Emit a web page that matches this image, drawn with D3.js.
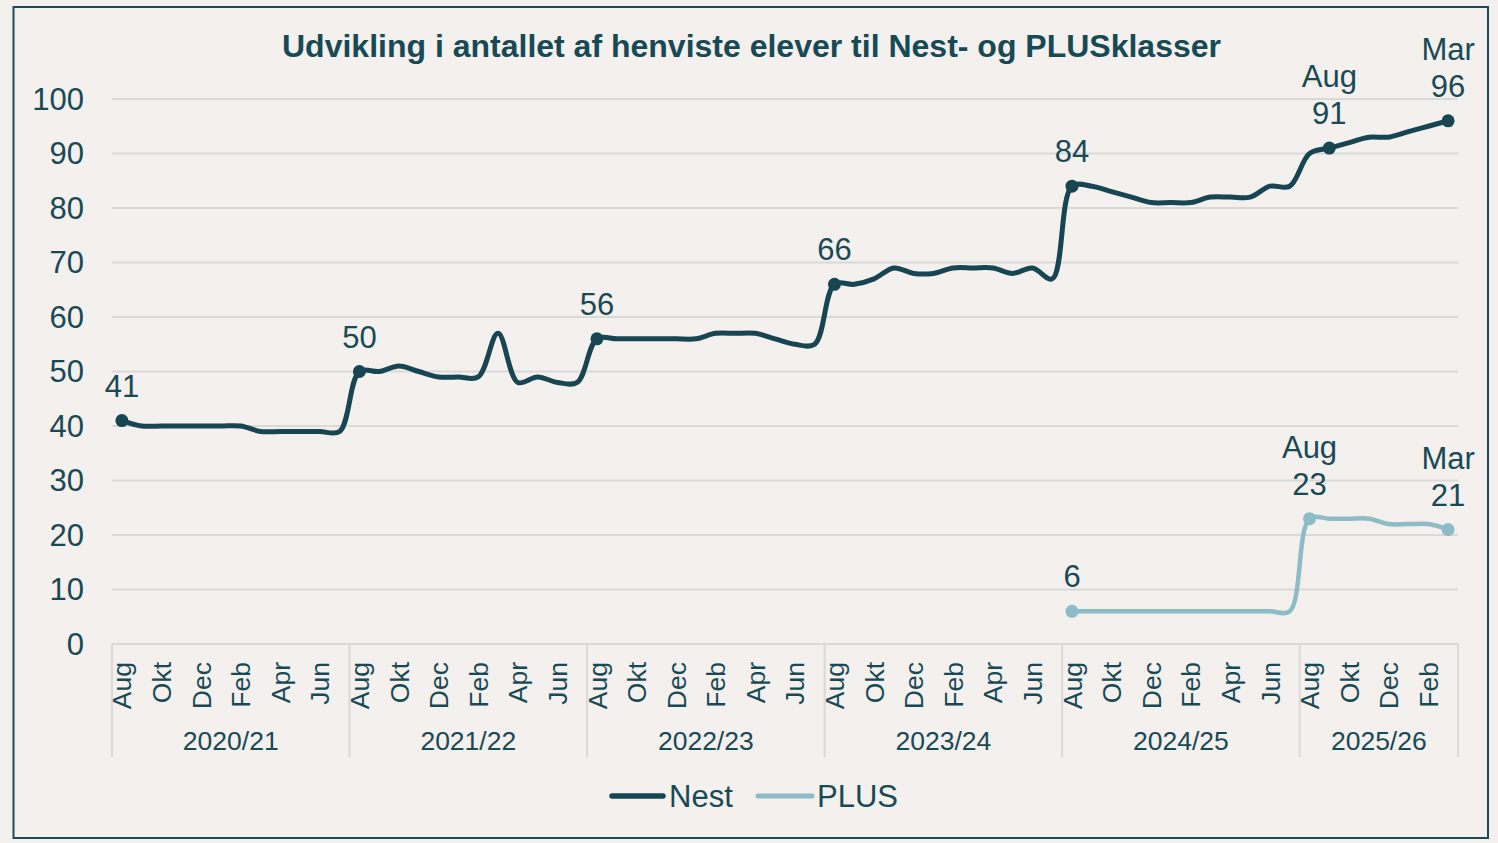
<!DOCTYPE html>
<html>
<head>
<meta charset="utf-8">
<script src="https://cdn.jsdelivr.net/npm/d3@7"></script>
<style>
  html, body { margin: 0; padding: 0; background: #f3f0ed; }
  svg { display: block; }
  text { font-family: "Liberation Sans", Arial, sans-serif; fill: #184a56; }
</style>
</head>
<body>
<svg id="chart" width="1498" height="843"></svg>
<script>
// ---------- DATA ----------
const title = "Udvikling i antallet af henviste elever til Nest- og PLUSklasser";
const schoolYears = ["2020/21", "2021/22", "2022/23", "2023/24", "2024/25", "2025/26"];
const monthsPerYear = [12, 12, 12, 12, 12, 8];
const monthNames = ["Aug", "Sep", "Okt", "Nov", "Dec", "Jan", "Feb", "Mar", "Apr", "Maj", "Jun", "Jul"];
const shownMonths = ["Aug", "Okt", "Dec", "Feb", "Apr", "Jun"];
const yTicks = [0, 10, 20, 30, 40, 50, 60, 70, 80, 90, 100];

const nestValues = [
  41, 40, 40, 40, 40, 40, 40, 39, 39, 39, 39, 39,   // 2020/21
  50, 50, 51, 50, 49, 49, 49, 57, 48, 49, 48, 48,   // 2021/22
  56, 56, 56, 56, 56, 56, 57, 57, 57, 56, 55, 55,   // 2022/23
  66, 66, 67, 69, 68, 68, 69, 69, 69, 68, 69, 67,   // 2023/24
  84, 84, 83, 82, 81, 81, 81, 82, 82, 82, 84, 84,   // 2024/25
  90, 91, 92, 93, 93, 94, 95, 96                    // 2025/26
];
const plusValues = [
  null, null, null, null, null, null, null, null, null, null, null, null,
  null, null, null, null, null, null, null, null, null, null, null, null,
  null, null, null, null, null, null, null, null, null, null, null, null,
  null, null, null, null, null, null, null, null, null, null, null, null,
  6, 6, 6, 6, 6, 6, 6, 6, 6, 6, 6, 6,
  23, 23, 23, 23, 22, 22, 22, 21
];
// labelled points: [index, label lines]
const nestLabels = [[0, ["41"]], [12, ["50"]], [24, ["56"]], [36, ["66"]], [48, ["84"]], [61, ["Aug", "91"]], [67, ["Mar", "96"]]];
const plusLabels = [[48, ["6"]], [60, ["Aug", "23"]], [67, ["Mar", "21"]]];
const seriesNames = ["Nest", "PLUS"];

// ---------- BUILD CATEGORIES ----------
const cats = [];
schoolYears.forEach((yr, yi) => {
  for (let m = 0; m < monthsPerYear[yi]; m++) cats.push({ i: cats.length, year: yr, yi, month: monthNames[m] });
});

// ---------- LAYOUT ----------
const colNest = "#174552", colPlus = "#8dbcc7", gridCol = "#d9d9d9";
const svg = d3.select("#chart");

svg.append("rect").attr("x", 13.5).attr("y", 7).attr("width", 1474.5).attr("height", 831)
  .attr("fill", "#f3f0ed").attr("stroke", "#1d4c58").attr("stroke-width", 2);

const x = d3.scaleBand().domain(cats.map(d => d.i)).range([112, 1458]).paddingInner(0).paddingOuter(0);
const xc = i => x(i) + x.bandwidth() / 2;
const y = d3.scaleLinear().domain([0, 100]).range([644, 99]);

// title
svg.append("text").attr("x", 751.5).attr("y", 57).attr("text-anchor", "middle")
  .style("font-size", "32px").style("font-weight", "bold").text(title);

// gridlines
svg.append("g").selectAll("line").data(yTicks).join("line")
  .attr("x1", 112).attr("x2", 1458).attr("y1", d => y(d)).attr("y2", d => y(d))
  .attr("stroke", gridCol).attr("stroke-width", 2);

// y labels
svg.append("g").selectAll("text").data(yTicks).join("text")
  .attr("x", 84).attr("y", d => y(d)).attr("dy", "0.34em").attr("text-anchor", "end")
  .style("font-size", "31px").text(d => d);

// x axis: group separators
let bounds = [0];
monthsPerYear.reduce((acc, n) => { bounds.push(acc + n); return acc + n; }, 0);
const sepX = bounds.map(b => b < cats.length ? x(b) : x(cats.length - 1) + x.bandwidth());
svg.append("g").selectAll("line").data(sepX).join("line")
  .attr("x1", d => d).attr("x2", d => d).attr("y1", 644).attr("y2", 757)
  .attr("stroke", gridCol).attr("stroke-width", 2);

// month labels
svg.append("g").selectAll("text").data(cats.filter(d => shownMonths.includes(d.month))).join("text")
  .attr("transform", d => `translate(${xc(d.i)},662) rotate(-90)`)
  .attr("text-anchor", "end").attr("dy", "0.36em")
  .style("font-size", "26.5px").text(d => d.month);

// year labels
svg.append("g").selectAll("text").data(schoolYears).join("text")
  .attr("x", (d, i) => (sepX[i] + sepX[i + 1]) / 2).attr("y", 750).attr("text-anchor", "middle")
  .style("font-size", "26.5px").text(d => d);

// lines
const line = d3.line().defined(d => d.v != null).x(d => xc(d.i)).y(d => y(d.v)).curve(d3.curveCatmullRom.alpha(0.5));
const nestData = nestValues.map((v, i) => ({ i, v }));
const plusData = plusValues.map((v, i) => ({ i, v }));

svg.append("path").datum(plusData.filter(d => d.v != null)).attr("d", line)
  .attr("fill", "none").attr("stroke", colPlus).attr("stroke-width", 4.5).attr("stroke-linejoin", "round").attr("stroke-linecap", "round");
svg.append("path").datum(nestData).attr("d", line)
  .attr("fill", "none").attr("stroke", colNest).attr("stroke-width", 5).attr("stroke-linejoin", "round").attr("stroke-linecap", "round");

function drawMarkers(values, labels, col) {
  const g = svg.append("g");
  g.selectAll("circle").data(labels).join("circle")
    .attr("cx", d => xc(d[0])).attr("cy", d => y(values[d[0]])).attr("r", 6.5).attr("fill", col);
  labels.forEach(([i, lines]) => {
    const cx = xc(i), cy = y(values[i]);
    lines.slice().reverse().forEach((t, k) => {
      g.append("text").attr("x", cx).attr("y", cy - 24 - k * 37).attr("text-anchor", "middle")
        .style("font-size", "31px").text(t);
    });
  });
}
drawMarkers(nestValues, nestLabels, colNest);
drawMarkers(plusValues, plusLabels, colPlus);

// legend
const leg = svg.append("g");
[[612, 663, 669, colNest, 5], [758, 812, 817, colPlus, 4.5]].forEach(([x1, x2, tx, c, w], k) => {
  leg.append("line").attr("x1", x1).attr("x2", x2).attr("y1", 796).attr("y2", 796)
    .attr("stroke", c).attr("stroke-width", w + 0.5).attr("stroke-linecap", "round");
  leg.append("text").attr("x", tx).attr("y", 807).style("font-size", "31px").text(seriesNames[k]);
});
</script>
</body>
</html>
